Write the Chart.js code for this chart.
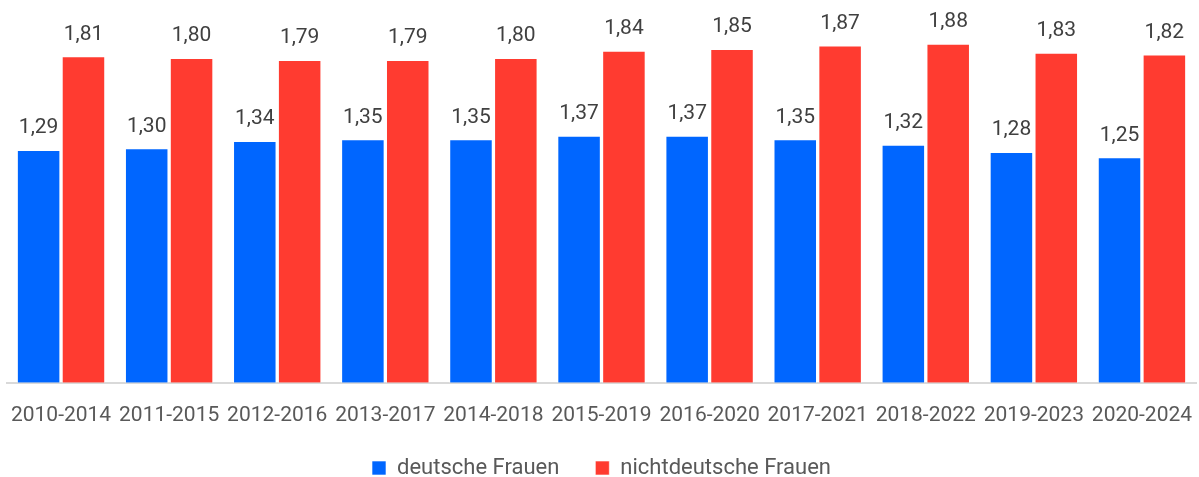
<!DOCTYPE html>
<html lang="de">
<head>
<meta charset="utf-8">
<title>Geburtenrate</title>
<script src="https://cdn.jsdelivr.net/npm/chart.js@4"></script>
<style>
  html, body { margin: 0; padding: 0; background: #fff; }
  #wrap { width: 1199px; height: 477px; position: relative; }
</style>
</head>
<body>
<div id="wrap"><canvas id="chart"></canvas></div>
<script>
// Zeiträume und Werte je Gruppe
const zeitraeume = ['2010-2014', '2011-2015', '2012-2016', '2013-2017', '2014-2018', '2015-2019',
                    '2016-2020', '2017-2021', '2018-2022', '2019-2023', '2020-2024'];
const deutscheFrauen = [1.29, 1.30, 1.34, 1.35, 1.35, 1.37, 1.37, 1.35, 1.32, 1.28, 1.25];
const nichtdeutscheFrauen = [1.81, 1.80, 1.79, 1.79, 1.80, 1.84, 1.85, 1.87, 1.88, 1.83, 1.82];

const FONT = 'Roboto, "Noto Sans", sans-serif';

// Werte über den Balken (Komma als Dezimaltrenner)
const wertLabels = {
    id: 'wertLabels',
    afterDatasetsDraw(chart) {
        const ctx = chart.ctx;
        ctx.save();
        ctx.font = '21px ' + FONT;
        ctx.fillStyle = '#404040';
        ctx.textAlign = 'center';
        ctx.textBaseline = 'middle';
        chart.data.datasets.forEach((ds, i) => {
            chart.getDatasetMeta(i).data.forEach((bar, j) => {
                const txt = ds.data[j].toFixed(2).replace('.', ',');
                ctx.fillText(txt, bar.x, bar.y - 22);
            });
        });
        ctx.restore();
    }
};

const ctx = document.getElementById('chart').getContext('2d');
new Chart(ctx, {
    type: 'bar',
    data: {
        labels: zeitraeume,
        datasets: [{
            label: 'deutsche Frauen',
            data: deutscheFrauen,
            backgroundColor: '#0066ff',
            borderColor: 'rgba(255,255,255,0.6)',
            borderWidth: 1,
            categoryPercentage: 0.83,
            barPercentage: 0.97
        }, {
            label: 'nichtdeutsche Frauen',
            data: nichtdeutscheFrauen,
            backgroundColor: '#ff3b30',
            borderColor: 'rgba(255,255,255,0.6)',
            borderWidth: 1,
            categoryPercentage: 0.83,
            barPercentage: 0.97
        }]
    },
    options: {
        responsive: true,
        maintainAspectRatio: false,
        animation: false,
        layout: { padding: { left: 7, right: 3, top: 22, bottom: -12 } },
        plugins: {
            legend: {
                position: 'bottom',
                labels: {
                    boxWidth: 14,
                    boxHeight: 14,
                    padding: 36,
                    color: '#595959',
                    font: { family: FONT, size: 22 }
                }
            },
            tooltip: { enabled: false }
        },
        scales: {
            x: {
                grid: { display: false, drawTicks: false },
                border: { color: '#d9d9d9', width: 2 },
                ticks: {
                    color: '#595959',
                    padding: 20,
                    autoSkip: false,
                    maxRotation: 0,
                    font: { family: FONT, size: 21 }
                },
                afterFit(scale) {
                    scale.height -= 27;
                    // Beschriftungen passen in die Kategorien, kein Extra-Rand nötig
                    scale.paddingLeft = 0;
                    scale.paddingRight = 0;
                }
            },
            y: {
                display: false,
                min: 0,
                max: 2.0
            }
        }
    },
    plugins: [wertLabels]
});
</script>
</body>
</html>
